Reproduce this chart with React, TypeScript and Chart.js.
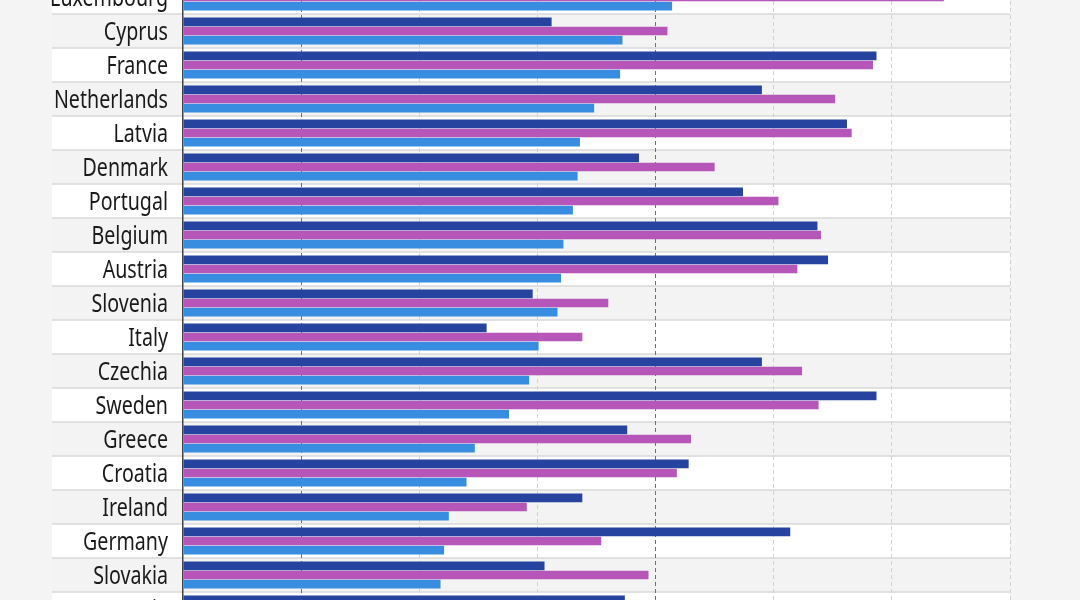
import React, { useEffect, useRef } from "react";
import { Chart, registerables } from "chart.js";

Chart.register(...registerables);

const categories = [
  "Luxembourg", "Cyprus", "France", "Netherlands", "Latvia", "Denmark", "Portugal",
  "Belgium", "Austria", "Slovenia", "Italy", "Czechia", "Sweden", "Greece",
  "Croatia", "Ireland", "Germany", "Slovakia", "Estonia",
];

const seriesDark = [
  59.0, 31.2, 58.7, 49.0, 56.2, 38.6, 47.4, 53.7, 54.6, 29.6, 25.7, 49.0, 58.7,
  37.6, 42.8, 33.8, 51.4, 30.6, 37.4,
];

const seriesMagenta = [
  64.4, 41.0, 58.4, 55.2, 56.6, 45.0, 50.4, 54.0, 52.0, 36.0, 33.8, 52.4, 53.8,
  43.0, 41.8, 29.1, 35.4, 39.4, 38.0,
];

const seriesLight = [
  41.4, 37.2, 37.0, 34.8, 33.6, 33.4, 33.0, 32.2, 32.0, 31.7, 30.1, 29.3, 27.6,
  24.7, 24.0, 22.5, 22.1, 21.8, 21.0,
];

const xMax = 70;
const xStep = 10;

const LABEL_FONT = "26px 'Noto Sans', 'Open Sans', sans-serif";
const LABEL_SQUEEZE = 0.755;
const LABEL_RIGHT = 168;
const LABEL_CAP = 18.5;

const bandsPlugin = {
  id: "bands",
  beforeDraw(chart: any) {
    const { ctx, chartArea } = chart;
    const y = chart.scales.y;
    const left = 52;
    const right = chartArea.right;
    const half = (y.getPixelForValue(1) - y.getPixelForValue(0)) / 2;
    ctx.save();
    categories.forEach((_, i) => {
      const yc = y.getPixelForValue(i);
      ctx.fillStyle = i % 2 === 0 ? "#ffffff" : "#f3f3f3";
      ctx.fillRect(left, yc - half, right - left, half * 2);
    });
    ctx.strokeStyle = "#d8d8d8";
    ctx.lineWidth = 1.5;
    categories.forEach((_, i) => {
      const yc = y.getPixelForValue(i);
      ctx.beginPath();
      ctx.moveTo(left, yc + half);
      ctx.lineTo(right, yc + half);
      ctx.stroke();
    });
    // category labels, condensed
    ctx.fillStyle = "#1a1a1a";
    ctx.font = LABEL_FONT;
    ctx.textAlign = "right";
    ctx.textBaseline = "alphabetic";
    y.ticks.forEach((t: any, i: number) => {
      const yc = y.getPixelForValue(i);
      const label = y.getLabelForValue(t.value);
      ctx.save();
      ctx.translate(LABEL_RIGHT, yc + LABEL_CAP / 2);
      ctx.scale(LABEL_SQUEEZE, 1);
      ctx.fillText(label, 0, 0);
      ctx.restore();
    });
    ctx.restore();
  },
};

export default function App() {
  const ref = useRef<HTMLCanvasElement | null>(null);

  useEffect(() => {
    document.body.style.margin = "0";
    const canvas = ref.current;
    if (!canvas) return;
    const chart = new Chart(canvas, {
      type: "bar",
      data: {
        labels: categories,
        datasets: [
          { label: "A", data: seriesDark, backgroundColor: "#26449f", categoryPercentage: 0.81, barPercentage: 0.95 },
          { label: "B", data: seriesMagenta, backgroundColor: "#b556b8", categoryPercentage: 0.81, barPercentage: 0.95 },
          { label: "C", data: seriesLight, backgroundColor: "#388de0", categoryPercentage: 0.81, barPercentage: 0.95 },
        ],
      },
      options: {
        indexAxis: "y",
        responsive: false,
        animation: false,
        devicePixelRatio: 1,
        layout: { padding: { left: 0, right: 70, top: 0, bottom: 0 } },
        plugins: { legend: { display: false }, tooltip: { enabled: false } },
        scales: {
          x: {
            min: 0,
            max: xMax,
            ticks: { display: false, stepSize: xStep },
            grid: {
              drawTicks: false,
              lineWidth: 1,
              color: (c: any) => {
                const i = c.index;
                if (i === 0) return "rgba(0,0,0,0)";
                if (i === 1 || i === 4) return "#707070";
                return "#d2d2d2";
              },
            },
            border: { display: false, dash: [4, 3] },
            afterFit: (s: any) => {
              s.height = 0;
            },
          },
          y: {
            ticks: { display: false },
            grid: { display: false, drawTicks: false },
            border: { display: true, color: "#444444", width: 1.5 },
            afterFit: (s: any) => {
              s.width = 183;
            },
          },
        },
      },
      plugins: [bandsPlugin],
    });
    return () => chart.destroy();
  }, []);

  return (
    <div
      style={{
        position: "fixed",
        left: 0,
        top: 0,
        width: 1080,
        height: 600,
        overflow: "hidden",
        background: "#f4f4f4",
      }}
    >
      <canvas
        ref={ref}
        width={1080}
        height={646}
        style={{ position: "absolute", left: 0, top: -20, width: 1080, height: 646 }}
      />
    </div>
  );
}
